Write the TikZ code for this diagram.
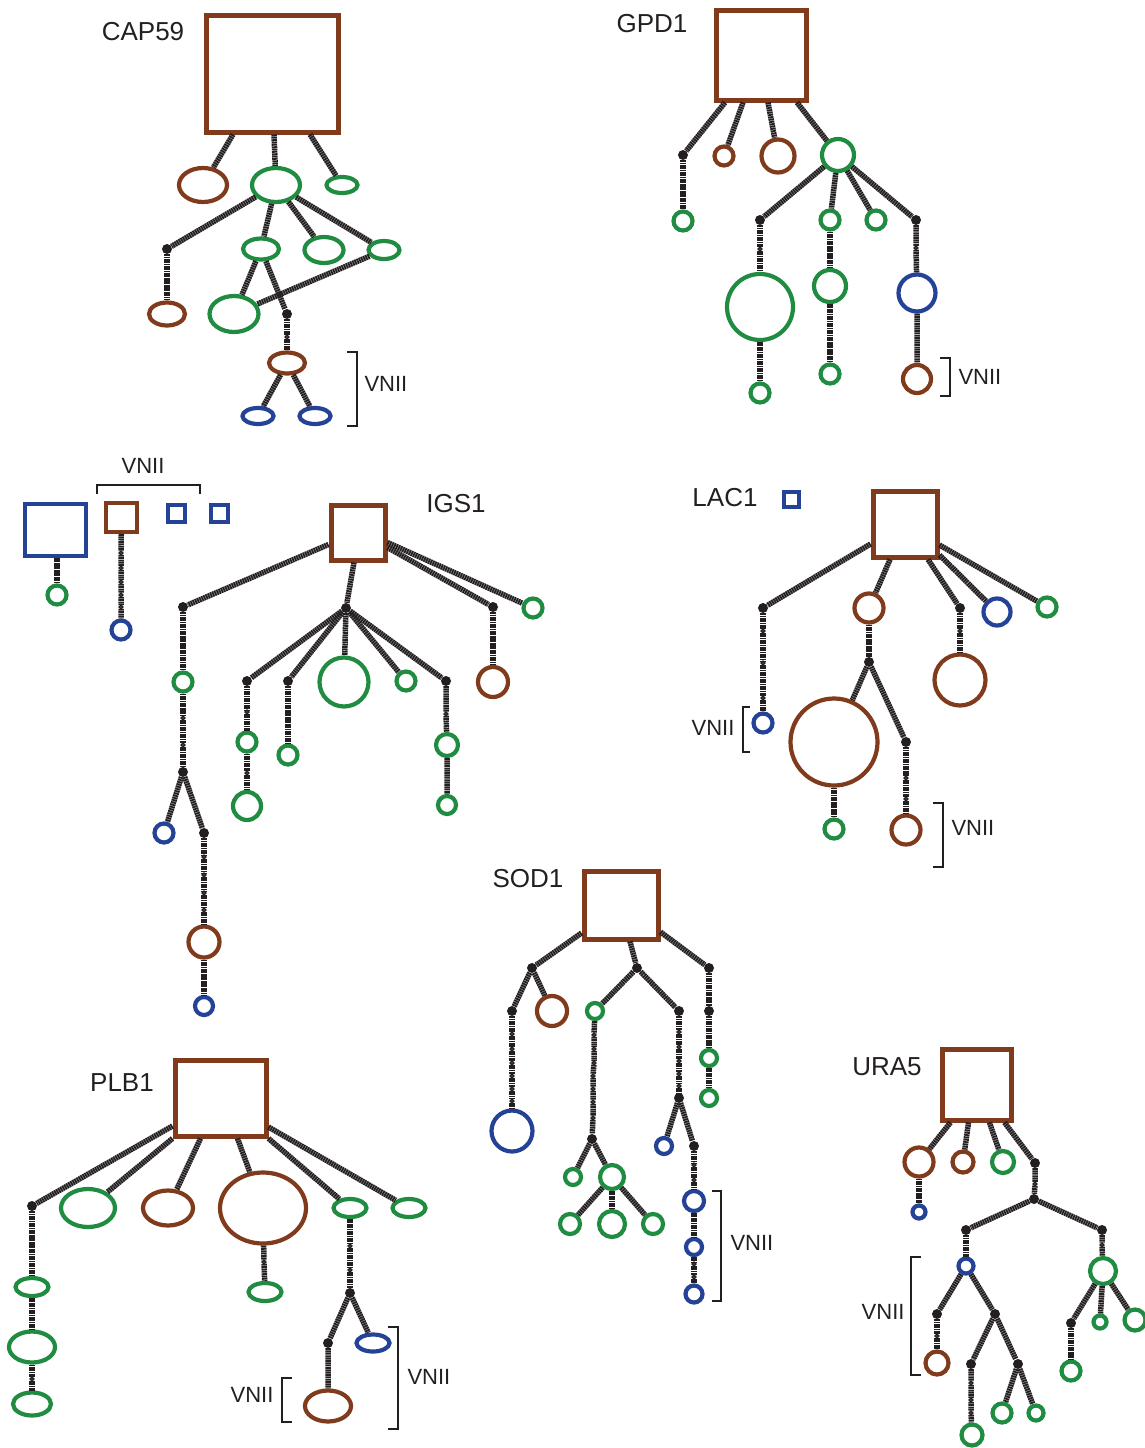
\documentclass[tikz,border=0pt]{standalone}
\usepackage{fontspec}
\setmainfont{Liberation Sans}
\usetikzlibrary{shapes.geometric}
\definecolor{brn}{RGB}{128,58,28}
\definecolor{grn}{RGB}{32,140,66}
\definecolor{blu}{RGB}{36,66,150}
\definecolor{linec}{RGB}{35,31,32}
\definecolor{txt}{RGB}{35,31,32}
\tikzset{
  link/.style={draw=linec,line width=5.5pt,dash pattern=on 1.8pt off 0.55pt},
  hring/.style={circle,inner sep=0pt,line width=4.2pt,fill=white,minimum size=#1},
  gc/.style={hring=#1,draw=grn},
  bc/.style={hring=#1,draw=brn},
  uc/.style={hring=#1,draw=blu},
  hoval/.style 2 args={ellipse,inner sep=0pt,line width=4.2pt,fill=white,minimum width=#1,minimum height=#2},
  ge/.style 2 args={hoval={#1}{#2},draw=grn},
  be/.style 2 args={hoval={#1}{#2},draw=brn},
  ue/.style 2 args={hoval={#1}{#2},draw=blu},
  md/.style={circle,fill=linec,inner sep=0pt,minimum size=10pt},
  ms/.style={circle,fill=white,draw=linec,line width=1.6pt,inner sep=0pt,minimum size=3.6pt,outer sep=0pt},
  hapsq/.style={rectangle,inner sep=0pt,line width=5pt,fill=white},
  gene/.style={font=\fontsize{26}{30}\selectfont,text=txt},
  tag/.style={font=\fontsize{22}{26}\selectfont,text=txt},
  brk/.style={draw=txt,line width=1.6pt}
}
\begin{document}
\begin{tikzpicture}[x=1pt,y=-1pt]
\useasboundingbox (0,0) rectangle (1145,1448);

% ---------------- CAP59 ----------------
\node[hapsq,draw=brn,minimum width=132pt,minimum height=117pt] (aR) at (272,73.5) {};
\node[gene] (aL) at (143,32) {CAP59};
\node[be={48}{34}] (a1) at (203,185) {};
\node[ge={48}{34}] (a2) at (276,185) {};
\node[ge={31}{16}] (a3) at (342,185) {};
\node[md] (a4) at (167,249) {};
\node[ge={36}{21}] (a5) at (261,249) {};
\node[ge={39}{26}] (a6) at (324,250) {};
\node[ge={31}{18}] (a7) at (384,250) {};
\node[be={36}{23}] (a8) at (167,314) {};
\node[ge={49}{36}] (a9) at (234,314) {};
\node[md] (a10) at (287,314) {};
\node[ms] (a11) at (287,337) {};
\node[be={36}{21}] (a12) at (287,363) {};
\node[ue={31}{16}] (a13) at (258,416) {};
\node[ue={31}{16}] (a14) at (315,416) {};
\draw[link] ([xshift=-39pt]aR.south) -- (a1);
\draw[link] ([xshift=2pt]aR.south) -- (a2);
\draw[link] ([xshift=38pt]aR.south) -- (a3);
\draw[link] (a2) -- (a4);
\draw[link] (a2) -- (a5);
\draw[link] (a2) -- (a6);
\draw[link] (a2) -- (a7);
\draw[link] (a4) -- (a8);
\draw[link] (a5) -- (a9);
\draw[link] (a5) -- (a10);
\draw[link] (a7) -- (a9);
\draw[link] (a10) -- (a11) -- (a12);
\draw[link] (a12) -- (a13);
\draw[link] (a12) -- (a14);
\draw[brk] (347,352) -- (357,352) -- (357,426) -- (347,426);
\node[tag,anchor=west] (aV) at (361,384) {VNII};

% ---------------- GPD1 ----------------
\node[hapsq,draw=brn,minimum width=90pt,minimum height=90pt] (bR) at (761,55) {};
\node[gene] (bL) at (652,24) {GPD1};
\node[md] (b1) at (683,155) {};
\node[bc=19pt] (b2) at (724,156) {};
\node[bc=33pt] (b3) at (778,156) {};
\node[gc=32pt] (b4) at (838,155) {};
\node[gc=19pt] (b5) at (683,221) {};
\node[md] (b6) at (760,220) {};
\node[gc=19pt] (b7) at (830,220) {};
\node[gc=19pt] (b8) at (876,220) {};
\node[md] (b9) at (916,220) {};
\node[ms] (b10) at (760,249) {};
\node[gc=66pt] (b11) at (760,307) {};
\node[gc=19pt] (b12) at (760,393) {};
\node[gc=32pt] (b13) at (830,286) {};
\node[gc=19pt] (b14) at (830,374) {};
\node[ms] (b15) at (916,248) {};
\node[uc=37pt] (b16) at (917,293) {};
\node[bc=28pt] (b17) at (917,379) {};
\draw[link] ([xshift=-36pt]bR.south) -- (b1);
\draw[link] ([xshift=-18pt]bR.south) -- (b2);
\draw[link] ([xshift=7pt]bR.south) -- (b3);
\draw[link] ([xshift=36pt]bR.south) -- (b4);
\draw[link] (b1) -- (b5);
\draw[link] (b4) -- (b6);
\draw[link] (b4) -- (b7);
\draw[link] (b4) -- (b8);
\draw[link] (b4) -- (b9);
\draw[link] (b6) -- (b10) -- (b11) -- (b12);
\draw[link] (b7) -- (b13) -- (b14);
\draw[link] (b9) -- (b15) -- (b16) -- (b17);
\draw[brk] (940,358) -- (950,358) -- (950,396) -- (940,396);
\node[tag,anchor=west] (bV) at (955,377) {VNII};

% ---------------- IGS1 ----------------
\node[hapsq,draw=blu,line width=4pt,minimum width=61pt,minimum height=52pt] (cA) at (55.5,530) {};
\node[hapsq,draw=brn,line width=4pt,minimum width=31pt,minimum height=29pt] (cB) at (121.5,517.5) {};
\node[hapsq,draw=blu,line width=4pt,minimum width=17pt,minimum height=17pt] (cC) at (176.5,513.5) {};
\node[hapsq,draw=blu,line width=4pt,minimum width=17pt,minimum height=17pt] (cD) at (219,513.5) {};
\draw[brk] (97,494) -- (97,485) -- (200,485) -- (200,494);
\node[tag] (cV) at (143,466) {VNII};
\node[gc=19pt] (cA1) at (57,595) {};
\draw[link] ([xshift=1.5pt]cA.south) -- (cA1);
\node[ms] (cB1) at (121,553) {};
\node[ms] (cB2) at (121,568) {};
\node[ms] (cB3) at (121,582) {};
\node[ms] (cB4) at (121,595) {};
\node[ms] (cB5) at (121,607) {};
\node[uc=19pt] (cB6) at (121,630) {};
\draw[link] (cB) -- (cB1) -- (cB2) -- (cB3) -- (cB4) -- (cB5) -- (cB6);

\node[hapsq,draw=brn,minimum width=54pt,minimum height=55pt] (cR) at (358,532.5) {};
\node[gene] (cL) at (456,504) {IGS1};
\node[md] (c1) at (183,607) {};
\node[md] (c2) at (346,608) {};
\node[md] (c3) at (493,607) {};
\node[gc=19pt] (c4) at (533,608) {};
\node[gc=19pt] (c5) at (183,682) {};
\node[ms] (c6) at (183,718) {};
\node[ms] (c7) at (183,745) {};
\node[md] (c8) at (183,772) {};
\node[uc=19pt] (c9) at (164,833) {};
\node[md] (c10) at (204,833) {};
\node[ms] (c11) at (204,857) {};
\node[ms] (c12) at (204,875) {};
\node[ms] (c13) at (204,893) {};
\node[ms] (c14) at (204,910) {};
\node[bc=31pt] (c15) at (204,942) {};
\node[uc=18pt] (c16) at (204,1006) {};
\node[md] (c17) at (247,681) {};
\node[md] (c18) at (288,681) {};
\node[gc=49pt] (c19) at (344,682) {};
\node[gc=19pt] (c20) at (406,681) {};
\node[md] (c21) at (446,681) {};
\node[ms] (c22) at (247,712) {};
\node[gc=19pt] (c23) at (247,742) {};
\node[ms] (c24) at (247,773) {};
\node[gc=28pt] (c25) at (247,806) {};
\node[gc=19pt] (c26) at (288,755) {};
\node[ms] (c27) at (446,714) {};
\node[gc=22pt] (c28) at (447,745) {};
\node[gc=18pt] (c29) at (447,805) {};
\node[bc=30pt] (c30) at (493,682) {};
\draw[link] ([yshift=-12pt]cR.west) -- (c1);
\draw[link] ([xshift=-4pt]cR.south) -- (c2);
\draw[link] ([yshift=-15pt]cR.east) -- (c3);
\draw[link] ([yshift=-10pt]cR.east) -- (c4);
\draw[link] (c1) -- (c5) -- (c6) -- (c7) -- (c8);
\draw[link] (c8) -- (c9);
\draw[link] (c8) -- (c10);
\draw[link] (c10) -- (c11) -- (c12) -- (c13) -- (c14) -- (c15) -- (c16);
\draw[link] (c2) -- (c17);
\draw[link] (c2) -- (c18);
\draw[link] (c2) -- (c19);
\draw[link] (c2) -- (c20);
\draw[link] (c2) -- (c21);
\draw[link] (c17) -- (c22) -- (c23) -- (c24) -- (c25);
\draw[link] (c18) -- (c26);
\draw[link] (c21) -- (c27) -- (c28) -- (c29);
\draw[link] (c3) -- (c30);

% ---------------- LAC1 ----------------
\node[hapsq,draw=brn,minimum width=64pt,minimum height=66pt] (dR) at (905,524) {};
\node[gene] (dL) at (725,498) {LAC1};
\node[hapsq,draw=blu,line width=4pt,minimum width=15pt,minimum height=15pt] (dB) at (791,499) {};
\node[md] (d1) at (763,608) {};
\node[bc=29pt] (d2) at (869,608) {};
\node[md] (d3) at (960,608) {};
\node[uc=27pt] (d4) at (997,612) {};
\node[gc=19pt] (d5) at (1047,607) {};
\node[ms] (d6) at (763,631) {};
\node[ms] (d7) at (763,663) {};
\node[ms] (d8) at (763,698) {};
\node[uc=19pt] (d9) at (763,723) {};
\node[md] (d10) at (869,662) {};
\node[bc=87pt] (d11) at (834,742) {};
\node[md] (d12) at (906,742) {};
\node[gc=19pt] (d13) at (834,829) {};
\node[ms] (d14) at (906,778) {};
\node[ms] (d15) at (906,799) {};
\node[bc=29pt] (d16) at (906,830) {};
\node[ms] (d17) at (960,631) {};
\node[bc=51pt] (d18) at (960,680) {};
\draw[link] ([yshift=-20pt]dR.west) -- (d1);
\draw[link] ([xshift=-15pt]dR.south) -- (d2);
\draw[link] ([xshift=23pt]dR.south) -- (d3);
\draw[link] ([yshift=-31pt]dR.east) -- (d4);
\draw[link] ([yshift=-21pt]dR.east) -- (d5);
\draw[link] (d1) -- (d6) -- (d7) -- (d8) -- (d9);
\draw[link] (d2) -- (d10);
\draw[link] (d10) -- (d11);
\draw[link] (d10) -- (d12);
\draw[link] (d11) -- (d13);
\draw[link] (d12) -- (d14) -- (d15) -- (d16);
\draw[link] (d3) -- (d17) -- (d18);
\draw[brk] (750,707) -- (743,707) -- (743,752) -- (750,752);
\node[tag,anchor=east] (dV1) at (738,728) {VNII};
\draw[brk] (933,803) -- (943,803) -- (943,867) -- (933,867);
\node[tag,anchor=west] (dV2) at (948,828) {VNII};

% ---------------- SOD1 ----------------
\node[hapsq,draw=brn,minimum width=74pt,minimum height=68pt] (eR) at (621,905) {};
\node[gene] (eL) at (528,879) {SOD1};
\node[md] (e1) at (532,968) {};
\node[md] (e2) at (637,968) {};
\node[md] (e3) at (709,968) {};
\node[md] (e4) at (512,1011) {};
\node[bc=30pt] (e5) at (552,1011) {};
\node[ms] (e6) at (512,1034) {};
\node[ms] (e7) at (512,1049) {};
\node[ms] (e8) at (512,1063) {};
\node[ms] (e9) at (512,1076) {};
\node[ms] (e10) at (512,1089) {};
\node[ms] (e11) at (512,1101) {};
\node[uc=41pt] (e12) at (512,1131) {};
\node[gc=16pt] (e13) at (595,1011) {};
\node[md] (e14) at (679,1011) {};
\node[ms] (e15) at (594,1035) {};
\node[ms] (e16) at (594,1049) {};
\node[ms] (e17) at (594,1063) {};
\node[ms] (e18) at (593,1076) {};
\node[ms] (e19) at (593,1089) {};
\node[ms] (e20) at (593,1102) {};
\node[ms] (e21) at (593,1118) {};
\node[md] (e22) at (592,1139) {};
\node[gc=16pt] (e23) at (573,1177) {};
\node[gc=24pt] (e24) at (612,1177) {};
\node[gc=20pt] (e25) at (570,1224) {};
\node[gc=26pt] (e26) at (612,1224) {};
\node[gc=20pt] (e27) at (653,1224) {};
\node[ms] (e28) at (679,1032) {};
\node[ms] (e29) at (679,1047) {};
\node[ms] (e30) at (679,1061) {};
\node[ms] (e31) at (679,1074) {};
\node[ms] (e32) at (679,1086) {};
\node[md] (e33) at (679,1098) {};
\node[uc=16pt] (e34) at (664,1146) {};
\node[md] (e35) at (694,1146) {};
\node[ms] (e36) at (694,1165) {};
\node[ms] (e37) at (694,1180) {};
\node[uc=20pt] (e38) at (694,1201) {};
\node[uc=16pt] (e39) at (694,1247) {};
\node[ms] (e40) at (694,1264) {};
\node[ms] (e41) at (694,1277) {};
\node[uc=17pt] (e42) at (694,1294) {};
\node[md] (e43) at (709,1011) {};
\node[gc=16pt] (e44) at (709,1058) {};
\node[gc=16pt] (e45) at (709,1098) {};
\draw[link] ([yshift=-28pt]eR.west) -- (e1);
\draw[link] ([xshift=9pt]eR.south) -- (e2);
\draw[link] ([yshift=-27pt]eR.east) -- (e3);
\draw[link] (e1) -- (e4);
\draw[link] (e1) -- (e5);
\draw[link] (e4) -- (e6) -- (e7) -- (e8) -- (e9) -- (e10) -- (e11) -- (e12);
\draw[link] (e2) -- (e13);
\draw[link] (e2) -- (e14);
\draw[link] (e13) -- (e15) -- (e16) -- (e17) -- (e18) -- (e19) -- (e20) -- (e21) -- (e22);
\draw[link] (e22) -- (e23);
\draw[link] (e22) -- (e24);
\draw[link] (e24) -- (e25);
\draw[link] (e24) -- (e26);
\draw[link] (e24) -- (e27);
\draw[link] (e14) -- (e28) -- (e29) -- (e30) -- (e31) -- (e32) -- (e33);
\draw[link] (e33) -- (e34);
\draw[link] (e33) -- (e35);
\draw[link] (e35) -- (e36) -- (e37) -- (e38) -- (e39) -- (e40) -- (e41) -- (e42);
\draw[link] (e3) -- (e43) -- (e44) -- (e45);
\draw[brk] (712,1191) -- (721,1191) -- (721,1301) -- (712,1301);
\node[tag,anchor=west] (eV) at (727,1243) {VNII};

% ---------------- PLB1 ----------------
\node[hapsq,draw=brn,minimum width=91pt,minimum height=76pt] (fR) at (220.5,1098) {};
\node[gene] (fL) at (122,1083) {PLB1};
\node[md] (f1) at (32,1206) {};
\node[ge={54}{38}] (f2) at (88,1208) {};
\node[be={50}{35}] (f3) at (168,1208) {};
\node[be={86}{71}] (f4) at (263,1208) {};
\node[ge={33}{18}] (f5) at (350,1208) {};
\node[ge={33}{18}] (f6) at (409,1208) {};
\node[ge={33}{18}] (f7) at (32,1287) {};
\node[ge={46}{31}] (f8) at (32,1347) {};
\node[ms] (f9) at (32,1379) {};
\node[ge={38}{23}] (f10) at (32,1404) {};
\node[ms] (f11) at (264,1262) {};
\node[ge={33}{18}] (f12) at (265,1292) {};
\node[ms] (f13) at (350,1246) {};
\node[ms] (f14) at (350,1270) {};
\node[md] (f15) at (350,1293) {};
\node[md] (f16) at (328,1343) {};
\node[be={46}{31}] (f17) at (328,1406) {};
\node[ue={33}{17}] (f18) at (373,1343) {};
\draw[link] ([yshift=-28pt]fR.west) -- (f1);
\draw[link] (fR.south west) -- (f2);
\draw[link] ([xshift=-20pt]fR.south) -- (f3);
\draw[link] ([xshift=17pt]fR.south) -- (f4);
\draw[link] (fR.south east) -- (f5);
\draw[link] ([yshift=-29pt]fR.east) -- (f6);
\draw[link] (f1) -- (f7) -- (f8) -- (f9) -- (f10);
\draw[link] (f4) -- (f11) -- (f12);
\draw[link] (f5) -- (f13) -- (f14) -- (f15);
\draw[link] (f15) -- (f16) -- (f17);
\draw[link] (f15) -- (f18);
\draw[brk] (388,1327) -- (398,1327) -- (398,1429) -- (388,1429);
\node[tag,anchor=west] (fV1) at (404,1377) {VNII};
\draw[brk] (292,1378) -- (282,1378) -- (282,1422) -- (292,1422);
\node[tag,anchor=east] (fV2) at (277,1395) {VNII};

% ---------------- URA5 ----------------
\node[hapsq,draw=brn,minimum width=69pt,minimum height=71pt] (gR) at (976.5,1084.5) {};
\node[gene] (gL) at (887,1067) {URA5};
\node[bc=29pt] (g1) at (919,1162) {};
\node[bc=21pt] (g2) at (963,1162) {};
\node[gc=22pt] (g3) at (1003,1162) {};
\node[md] (g4) at (1035,1163) {};
\node[uc=13pt] (g5) at (919,1212) {};
\node[ms] (g6) at (1035,1184) {};
\node[md] (g7) at (1034,1199) {};
\node[md] (g8) at (966,1230) {};
\node[md] (g9) at (1102,1230) {};
\node[uc=15pt] (g10) at (966,1266) {};
\node[ms] (g11) at (1102,1245) {};
\node[gc=26pt] (g12) at (1103,1271) {};
\node[md] (g13) at (1071,1323) {};
\node[gc=13pt] (g14) at (1100,1322) {};
\node[gc=21pt] (g15) at (1135,1320) {};
\node[gc=19pt] (g16) at (1071,1371) {};
\node[md] (g17) at (937,1314) {};
\node[md] (g18) at (995,1314) {};
\node[ms] (g19) at (937,1336) {};
\node[bc=23pt] (g20) at (937,1363) {};
\node[md] (g21) at (971,1364) {};
\node[md] (g22) at (1018,1364) {};
\node[ms] (g23) at (971,1383) {};
\node[ms] (g24) at (971,1400) {};
\node[ms] (g25) at (971,1413) {};
\node[gc=21pt] (g26) at (972,1435) {};
\node[gc=19pt] (g27) at (1002,1413) {};
\node[gc=15pt] (g28) at (1036,1413) {};
\draw[link] ([xshift=-26pt]gR.south) -- (g1);
\draw[link] ([xshift=-8pt]gR.south) -- (g2);
\draw[link] ([xshift=13pt]gR.south) -- (g3);
\draw[link] ([xshift=28pt]gR.south) -- (g4);
\draw[link] (g1) -- (g5);
\draw[link] (g4) -- (g6) -- (g7);
\draw[link] (g7) -- (g8);
\draw[link] (g7) -- (g9);
\draw[link] (g8) -- (g10);
\draw[link] (g9) -- (g11) -- (g12);
\draw[link] (g12) -- (g13);
\draw[link] (g12) -- (g14);
\draw[link] (g12) -- (g15);
\draw[link] (g13) -- (g16);
\draw[link] (g10) -- (g17);
\draw[link] (g10) -- (g18);
\draw[link] (g17) -- (g19) -- (g20);
\draw[link] (g18) -- (g21);
\draw[link] (g18) -- (g22);
\draw[link] (g21) -- (g23) -- (g24) -- (g25) -- (g26);
\draw[link] (g22) -- (g27);
\draw[link] (g22) -- (g28);
\draw[brk] (921,1257) -- (911,1257) -- (911,1375) -- (921,1375);
\node[tag,anchor=east] (gV) at (908,1312) {VNII};
\end{tikzpicture}
\end{document}
